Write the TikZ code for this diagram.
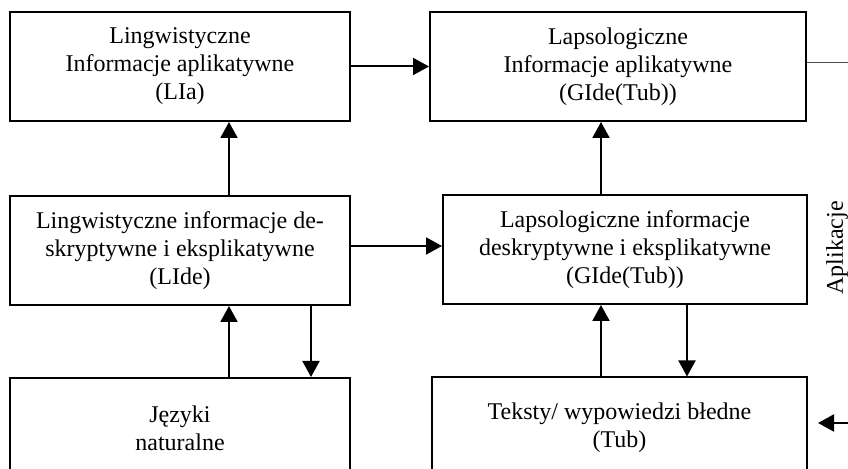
\documentclass[tikz,border=0pt]{standalone}
\usepackage{fontspec}
\setmainfont{Liberation Serif}
\usetikzlibrary{arrows.meta}
\colorlet{colbox}{black}
\colorlet{colstub}{black!70}
\tikzset{
  >=Latex,
  infobox/.style={rectangle, draw=colbox, line width=1pt, align=center, inner sep=0,
                  minimum height=54.5pt, font=\fontsize{12}{14}\selectfont},
  flow/.style={-{Triangle[length=8pt, width=8.5pt]}, line width=1pt},
}
\begin{document}
\begin{tikzpicture}[x=0.5pt, y=-0.5pt]
  \useasboundingbox (0,0) rectangle (848,469);

  % ---- boxes: left column (linguistics), right column (lapsology)
  \node[infobox, minimum width=170pt] (LIa) at (180, 66.5)
    {Lingwistyczne\\Informacje aplikatywne\\(LIa)};
  \node[infobox, minimum width=188pt] (GIa) at (618, 66.5)
    {Lapsologiczne\\Informacje aplikatywne\\(GIde(Tub))};
  \node[infobox, minimum width=170pt] (LIde) at (180, 250.5)
    {Lingwistyczne informacje de-\\skryptywne i eksplikatywne\\(LIde)};
  \node[infobox, minimum width=182pt] (GIde) at (625, 249.5)
    {Lapsologiczne informacje\\deskryptywne i eksplikatywne\\(GIde(Tub))};
  \node[infobox, minimum width=170pt, minimum height=50pt] (JN) at (180, 428)
    {J\k{e}zyki\\naturalne};
  \node[infobox, minimum width=187.5pt, minimum height=50pt] (Tub) at (619.5, 427.5)
    {Teksty/ wypowiedzi b\l{}edne\\(Tub)};

  % ---- side label and the loose ends of the application loop
  \node[rotate=90, font=\fontsize{12}{14}\selectfont] (apl) at (837, 248) {Aplikacje};
  \coordinate (appTop) at (850, 63);
  \coordinate (appBot) at (850, 423);

  % ---- horizontal flows
  \draw[flow] (LIa.east) -- (GIa.west);
  \draw[flow] ([yshift=2.25pt]LIde.east) -- ([yshift=1.75pt]GIde.west);

  % ---- vertical flows
  \draw[flow] ([xshift=24.5pt]LIde.north) -- ([xshift=24.5pt]LIa.south);
  \draw[flow] ([xshift=24.5pt]JN.north) -- ([xshift=24.5pt]LIde.south);
  \draw[flow] ([xshift=65.5pt]LIde.south) -- ([xshift=65.5pt]JN.north);
  \draw[flow] ([xshift=-12pt]GIde.north) -- ([xshift=-8.5pt]GIa.south);
  \draw[flow] ([xshift=-9.25pt]Tub.north) -- ([xshift=-12pt]GIde.south);
  \draw[flow] ([xshift=31pt]GIde.south) -- ([xshift=33.75pt]Tub.north);

  % ---- application loop
  \draw[colstub, line width=0.5pt] (GIa.east |- appTop) -- (appTop);
  \draw[flow, shorten >=5pt] (appBot) -- (Tub.east |- appBot);

\end{tikzpicture}
\end{document}
